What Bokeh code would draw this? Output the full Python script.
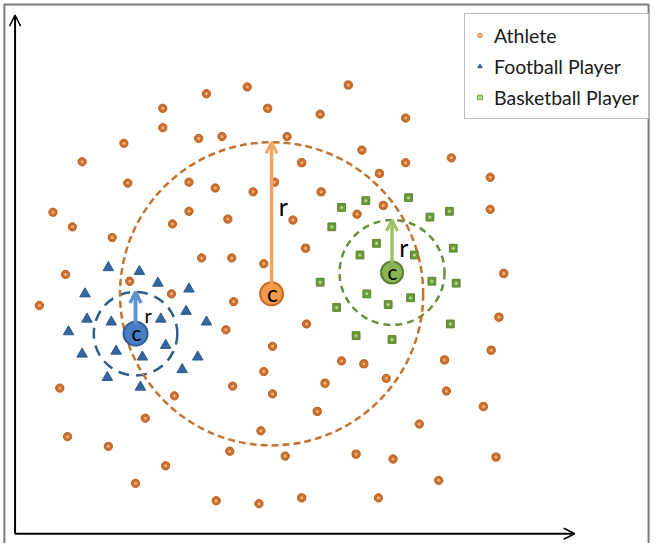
from bokeh.plotting import figure
from bokeh.models import Range1d, Arrow, OpenHead, Legend, LegendItem
from bokeh.core.properties import value
from bokeh.embed import file_html
from bokeh.resources import INLINE

# ---------------- data (pixel-like units) ----------------
athlete_x = [358, 254, 212, 167, 275, 329, 417, 167, 127, 204, 228, 295, 372, 464, 417,
             84, 310, 504, 390, 131, 194, 221, 260, 282, 330, 504, 394, 367, 54, 74,
             115, 194, 177, 234, 301, 314, 207, 238, 271, 67, 133, 176, 240, 40, 518,
             513, 232, 315, 280, 505, 351, 374, 457, 271, 239, 280, 334, 397, 459, 61,
             179, 326, 497, 149, 268, 431, 69, 111, 236, 293, 366, 404, 510, 170, 139,
             451, 222, 266, 310, 389]
athlete_y = [87, 89, 96, 111, 111, 117, 121, 131, 147, 142, 140, 140, 154, 162, 167,
             166, 167, 182, 178, 188, 187, 193, 197, 187, 197, 215, 211, 220, 218, 233,
             244, 217, 230, 225, 226, 255, 265, 265, 271, 282, 289, 302, 310, 314, 281,
             326, 339, 333, 356, 360, 371, 374, 370, 382, 397, 405, 394, 389, 402, 399,
             407, 423, 418, 430, 443, 436, 449, 459, 464, 469, 467, 472, 470, 479, 497,
             494, 515, 518, 512, 512]

football_x = [111, 143, 162, 194, 87, 191, 89, 114, 165, 212, 70, 170, 84, 119, 146,
              203, 187, 110, 144]
football_y = [275, 279, 291, 297, 302, 320, 328, 331, 328, 331, 341, 355, 364, 361, 367,
              367, 380, 388, 398]

basketball_x = [376, 420, 351, 462, 442, 341, 387, 370, 426, 466, 329, 444, 469, 377, 422,
                399, 346, 463, 366, 403]
basketball_y = [206, 203, 213, 217, 223, 233, 250, 262, 262, 255, 290, 289, 291, 302, 306,
                313, 316, 333, 345, 349]

group_names = ["Athlete", "Football Player", "Basketball Player"]
center_x = [279, 139, 403]
center_y = [302, 343, 280]
radius = [156, 43, 54]

# ---------------- styles ----------------
W, H = 650, 543
marker_fill = ["#CC7030", "#35659E", "#6B9A3B"]
marker_line = ["#BA5F1E", "#2D5A8E", "#5A8530"]
marker_dot = ["#F4B27A", None, "#B9D98E"]
ring_color = ["#C4722F", "#2F5E8E", "#6B8E3A"]
ring_dash = ["7 4", "11 7", "7 5"]
c_fill = ["#F29A4C", "#4A7DC2", "#8CB454"]
c_line = ["#C8692A", "#2F5D96", "#5C7E2E"]
c_size = [23, 24, 22]
c_font = ["23px", "21px", "21px"]
c_dx = [1, 1, 0.5]
c_dy = [-0.5, -1, -1]
arrow_color = ["#F2A462", "#5F93D3", "#9DC163"]
arrow_width = [3.5, 4, 3.5]
r_font = ["25px", "20px", "25px"]
r_dx = [12, 13, 12]
r_dy = [-90, -19, -26]
FONT = "Lato"
frame_color = "#7a7a7a"

p = figure(width=W, height=H, output_backend="svg", toolbar_location=None,
           x_range=Range1d(0, 669), y_range=Range1d(559, 0),
           x_axis_type=None, y_axis_type=None, min_border=0,
           min_border_left=0, min_border_right=0, min_border_top=0, min_border_bottom=0)
p.grid.visible = False
p.background_fill_color = "white"
p.border_fill_color = "white"
p.outline_line_color = None

# picture frame (left, top, right edges)
p.line(x=[4, 4, 667, 667], y=[559, 4, 4, 559], line_color=frame_color, line_width=2)

# axes drawn as arrows
p.add_layout(Arrow(x_start=15, y_start=549, x_end=15, y_end=15,
                   line_color="black", line_width=2,
                   end=OpenHead(size=11, line_color="black", line_width=1.5)))
p.add_layout(Arrow(x_start=15, y_start=549, x_end=591, y_end=549,
                   line_color="black", line_width=2,
                   end=OpenHead(size=11, line_color="black", line_width=1.5)))

# scatter points
a_out = p.scatter(athlete_x, athlete_y, marker="circle", size=8.3,
                  fill_color=marker_fill[0], line_color=marker_line[0], line_width=1)
a_in = p.scatter(athlete_x, athlete_y, marker="circle", size=3,
                 fill_color=marker_dot[0], line_color=None)
f_out = p.scatter(football_x, football_y, marker="triangle", size=10.5,
                  fill_color=marker_fill[1], line_color=marker_line[1], line_width=1)
b_out = p.scatter(basketball_x, basketball_y, marker="square", size=7.8,
                  fill_color=marker_fill[2], line_color=marker_line[2], line_width=1)
b_in = p.scatter(basketball_x, basketball_y, marker="circle", size=3,
                 fill_color=marker_dot[2], line_color=None)

# dashed radius circles (small ones first, big orange on top)
for i in [1, 2, 0]:
    p.circle(x=[center_x[i]], y=[center_y[i]], radius=[radius[i]],
             fill_color=None, line_color=ring_color[i], line_width=2.5,
             line_dash=ring_dash[i])

# radius arrows
for i in range(3):
    p.add_layout(Arrow(x_start=center_x[i], y_start=center_y[i] - c_size[i] / 2 + 1,
                       x_end=center_x[i], y_end=center_y[i] - radius[i],
                       line_color=arrow_color[i], line_width=arrow_width[i],
                       end=OpenHead(size=11, line_color=arrow_color[i],
                                    line_width=arrow_width[i] - 0.5)))

# centres
for i in range(3):
    p.scatter([center_x[i]], [center_y[i]], marker="circle", size=c_size[i],
              fill_color=c_fill[i], line_color=c_line[i], line_width=2)
    p.text(x=[center_x[i] + c_dx[i]], y=[center_y[i] + c_dy[i]], text=["c"],
           text_font=value(FONT), text_font_size=c_font[i], text_color="black",
           text_align="center", text_baseline="middle")
    p.text(x=[center_x[i] + r_dx[i]], y=[center_y[i] + r_dy[i]], text=["r"],
           text_font=value(FONT), text_font_size=r_font[i], text_color="black",
           text_align="center", text_baseline="middle")

legend = Legend(items=[LegendItem(label=group_names[0], renderers=[a_out, a_in]),
                       LegendItem(label=group_names[1], renderers=[f_out]),
                       LegendItem(label=group_names[2], renderers=[b_out, b_in])],
                location=(464, 424), orientation="vertical",
                label_text_font=FONT, label_text_font_size="19.5px",
                label_text_color="#1a1a1a", label_height=24, glyph_height=24,
                glyph_width=11, label_standoff=9, spacing=7, padding=9,
                margin=0, border_line_color=frame_color, border_line_width=1.5,
                background_fill_color="white", background_fill_alpha=1)
p.add_layout(legend)

open("out.html", "w").write(file_html(p, INLINE))
